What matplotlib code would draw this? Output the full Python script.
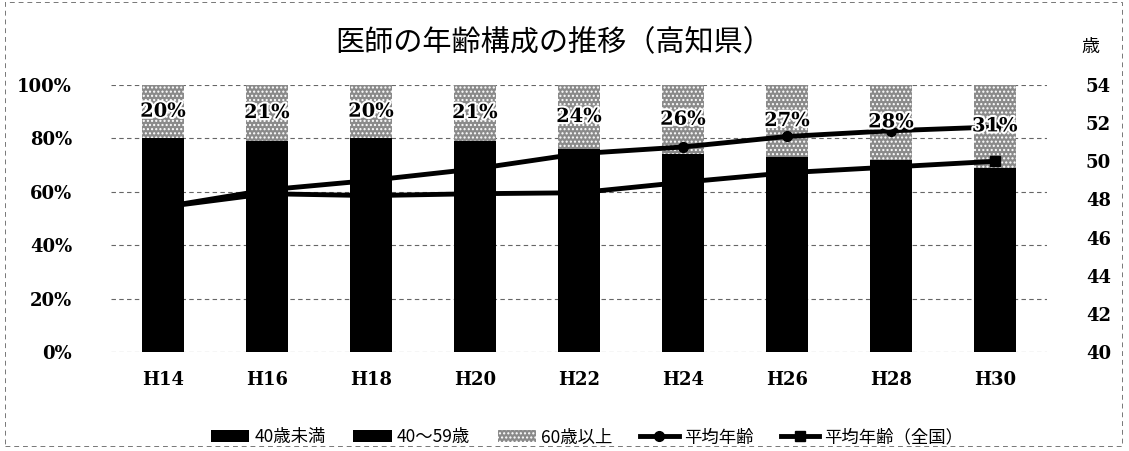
import matplotlib.pyplot as plt
import matplotlib.patheffects as pe
import numpy as np

plt.rcParams['font.family'] = ['Noto Sans CJK JP', 'DejaVu Sans']
plt.rcParams['hatch.color'] = '#333333'

years = ['H14', 'H16', 'H18', 'H20', 'H22', 'H24', 'H26', 'H28', 'H30']
under40 = [34, 29, 29, 26, 26, 25, 25, 25, 25]
age40_59 = [46, 50, 51, 53, 50, 49, 48, 47, 44]
over60 = [20, 21, 20, 21, 24, 26, 27, 28, 31]
avg_kochi = [47.6, 48.5, 49.0, 49.6, 50.4, 50.75, 51.3, 51.6, 51.8]
avg_japan = [47.6, 48.3, 48.2, 48.3, 48.35, 48.9, 49.4, 49.7, 50.0]

fig = plt.figure(figsize=(11.29, 4.51), dpi=100)
ax = fig.add_axes([111 / 1129, 1 - 352 / 451, (1047 - 111) / 1129, (352 - 85) / 451])
ax2 = ax.twinx()

x = np.arange(len(years))
w = 0.41
b1 = np.array(under40)
b2 = b1 + np.array(age40_59)

ax.bar(x, under40, w, color='black', label='40歳未満', zorder=2)
ax.bar(x, age40_59, w, bottom=b1, color='black', label='40～59歳', zorder=2)
ax.bar(x, over60, w, bottom=b2, color='#8a8a8a', hatch='....', edgecolor='white',
       linewidth=0, label='60歳以上', zorder=2)

ax.set_ylim(0, 100)
ax.set_yticks(range(0, 101, 20))
ax.set_yticklabels([f'{v}%' for v in range(0, 101, 20)])
ax.set_xlim(-0.5, len(years) - 0.5)
ax.set_xticks(x)
ax.set_xticklabels(years)
ax.grid(axis='y', linestyle=(0, (4, 3)), color='#666666', linewidth=0.8, zorder=0)
ax.set_axisbelow(True)

# lines go over the bars
ax2.plot(x, avg_kochi, color='black', linewidth=3.5, marker='o', markersize=7,
         label='平均年齢', zorder=4)
ax2.plot(x, avg_japan, color='black', linewidth=3.5, marker='s', markersize=7,
         label='平均年齢（全国）', zorder=4)
ax2.set_ylim(40, 54)
ax2.set_yticks(range(40, 55, 2))

# data labels (drawn on top axes, in bar coordinates)
outline = [pe.withStroke(linewidth=3, foreground='white')]
for i in range(len(years)):
    ax2.text(x[i], under40[i] / 2, f'{under40[i]}%', transform=ax.transData,
             ha='center', va='center', fontsize=13, fontweight='bold',
             family='DejaVu Serif', color='black', zorder=5)
    ax2.text(x[i], b1[i] + age40_59[i] / 2, f'{age40_59[i]}%', transform=ax.transData,
             ha='center', va='center', fontsize=13, fontweight='bold',
             family='DejaVu Serif', color='black', zorder=5)
    ax2.text(x[i], b2[i] + over60[i] / 2, f'{over60[i]}%', transform=ax.transData,
             ha='center', va='center', fontsize=14, fontweight='bold',
             family='DejaVu Serif', color='black', path_effects=outline, zorder=6)

for a in (ax, ax2):
    for s in a.spines.values():
        s.set_visible(False)
    a.tick_params(length=0)
for lab in ax.get_yticklabels() + ax.get_xticklabels() + ax2.get_yticklabels():
    lab.set_family('DejaVu Serif')
    lab.set_fontweight('bold')
    lab.set_fontsize(13)
ax.tick_params(axis='y', pad=28)
ax.tick_params(axis='x', pad=14)
ax2.tick_params(axis='y', pad=28)

fig.text(0.49, 0.905, '医師の年齢構成の推移（高知県）', ha='center', va='center', fontsize=21)
fig.text(0.966, 0.895, '歳', ha='center', va='center', fontsize=13)

h1, l1 = ax.get_legend_handles_labels()
h2, l2 = ax2.get_legend_handles_labels()
fig.legend(h1 + h2, l1 + l2, loc='center', bbox_to_anchor=(0.52, 0.03), ncol=5,
           frameon=False, fontsize=12.5, handlelength=2.2, columnspacing=1.6,
           handletextpad=0.3)

fig.patches.append(plt.Rectangle((0.004, 0.01), 0.99, 0.985, transform=fig.transFigure,
                                 fill=False, linestyle=(0, (5, 4)), linewidth=0.7,
                                 edgecolor='#777777'))

fig.savefig('out.png', dpi=100)
